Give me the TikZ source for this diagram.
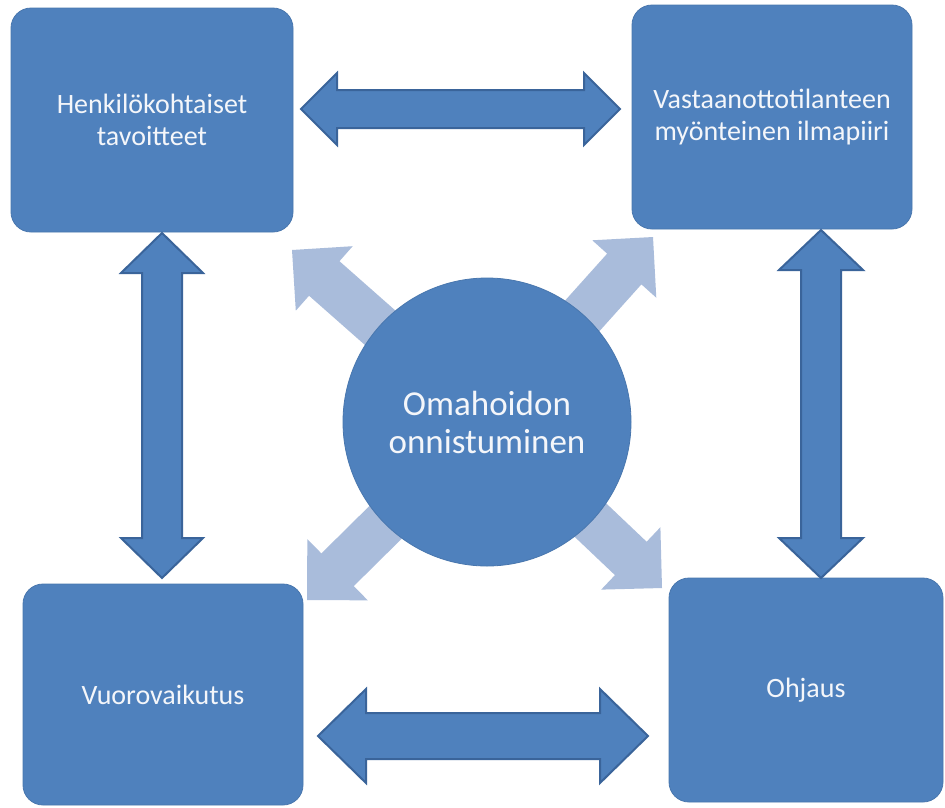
\documentclass[tikz,border=0pt]{standalone}
\usepackage{fontspec}
\setmainfont{Carlito}
\usetikzlibrary{calc}

\definecolor{boxblue}{HTML}{4F81BD}
\definecolor{edgeblue}{HTML}{3A649A}
\definecolor{paleblue}{HTML}{A9BCDB}
\definecolor{labelwhite}{HTML}{F4F6FA}

% double-headed block arrow: #1 tip, #2 tip, #3 shaft half width, #4 head half width, #5 head length, #6 style
\newcommand\twowayarrow[6]{%
  \filldraw[#6] (#1)
    -- ($(#1)!#5!(#2)!#4!90:(#2)$)
    -- ($(#1)!#5!(#2)!#3!90:(#2)$)
    -- ($(#2)!#5!(#1)!#3!-90:(#1)$)
    -- ($(#2)!#5!(#1)!#4!-90:(#1)$)
    -- (#2)
    -- ($(#2)!#5!(#1)!#4!90:(#1)$)
    -- ($(#2)!#5!(#1)!#3!90:(#1)$)
    -- ($(#1)!#5!(#2)!#3!-90:(#2)$)
    -- ($(#1)!#5!(#2)!#4!-90:(#2)$)
    -- cycle;}

% single block arrow from a base point #1 to its tip #2 (same size parameters)
\newcommand\spokearrow[6]{%
  \fill[#6] (#2)
    -- ($(#2)!#5!(#1)!#4!90:(#1)$)
    -- ($(#2)!#5!(#1)!#3!90:(#1)$)
    -- ($(#1)!#3!-90:(#2)$)
    -- ($(#1)!#3!90:(#2)$)
    -- ($(#2)!#5!(#1)!#3!-90:(#1)$)
    -- ($(#2)!#5!(#1)!#4!-90:(#1)$)
    -- cycle;}

\tikzset{
  topicbox/.style={fill=boxblue, draw=boxblue!92!black, line width=0.8pt,
    rounded corners=20pt, text=labelwhite, align=center, inner sep=0pt,
    font=\fontsize{28}{32}\selectfont},
  hub/.style={circle, fill=boxblue, draw=boxblue!92!black, line width=0.8pt,
    text=labelwhite, align=center, inner sep=0pt, minimum size=288pt,
    font=\fontsize{35}{38}\selectfont},
  linkarrow/.style={fill=boxblue, draw=edgeblue, line width=2pt, line join=miter},
  spoke/.style={fill=paleblue},
}

\begin{document}
\begin{tikzpicture}[x=1pt, y=-1pt]
  \useasboundingbox (0,0) rectangle (945,807);
  \fill[white] (0,0) rectangle (945,807);

  % centre hub position and the tips of the four pale spokes
  \coordinate (hubc) at (487,422);
  \coordinate (ulTip) at (292,250);
  \coordinate (urTip) at (653,237);
  \coordinate (llTip) at (307,600);
  \coordinate (lrTip) at (662,588);

  % pale spokes behind the hub
  \spokearrow{hubc}{ulTip}{23pt}{43pt}{43pt}{spoke}
  \spokearrow{hubc}{urTip}{23pt}{43pt}{43pt}{spoke}
  \spokearrow{hubc}{llTip}{23pt}{43pt}{43pt}{spoke}
  \spokearrow{hubc}{lrTip}{23pt}{43pt}{43pt}{spoke}

  % hub
  \node[hub] (hub) at (hubc) {Omahoidon\\onnistuminen};

  % the four topic boxes
  \node[topicbox, minimum width=282pt, minimum height=224pt] (tl) at (152,120)
    {Henkilökohtaiset\\tavoitteet};
  \node[topicbox, minimum width=280pt, minimum height=224pt] (tr) at (772,117)
    {Vastaanottotilanteen\\myönteinen ilmapiiri};
  \node[topicbox, minimum width=280pt, minimum height=221pt] (bl) at (163,694.5)
    {Vuorovaikutus};
  \node[topicbox, minimum width=274pt, minimum height=224pt] (br) at (806,690)
    {Ohjaus};

  % tips of the two-way links between neighbouring boxes
  \coordinate (topL) at (301,109);
  \coordinate (topR) at (620,109);
  \coordinate (leftT) at (162,233);
  \coordinate (leftB) at (162,578);
  \coordinate (rightT) at (821,230);
  \coordinate (rightB) at (821,578);
  \coordinate (botL) at (318,736);
  \coordinate (botR) at (648,736);

  \twowayarrow{topL}{topR}{19pt}{36pt}{36pt}{linkarrow}
  \twowayarrow{leftT}{leftB}{20pt}{41pt}{40pt}{linkarrow}
  \twowayarrow{rightT}{rightB}{20pt}{42pt}{40pt}{linkarrow}
  \twowayarrow{botL}{botR}{23pt}{47pt}{48pt}{linkarrow}
\end{tikzpicture}
\end{document}
